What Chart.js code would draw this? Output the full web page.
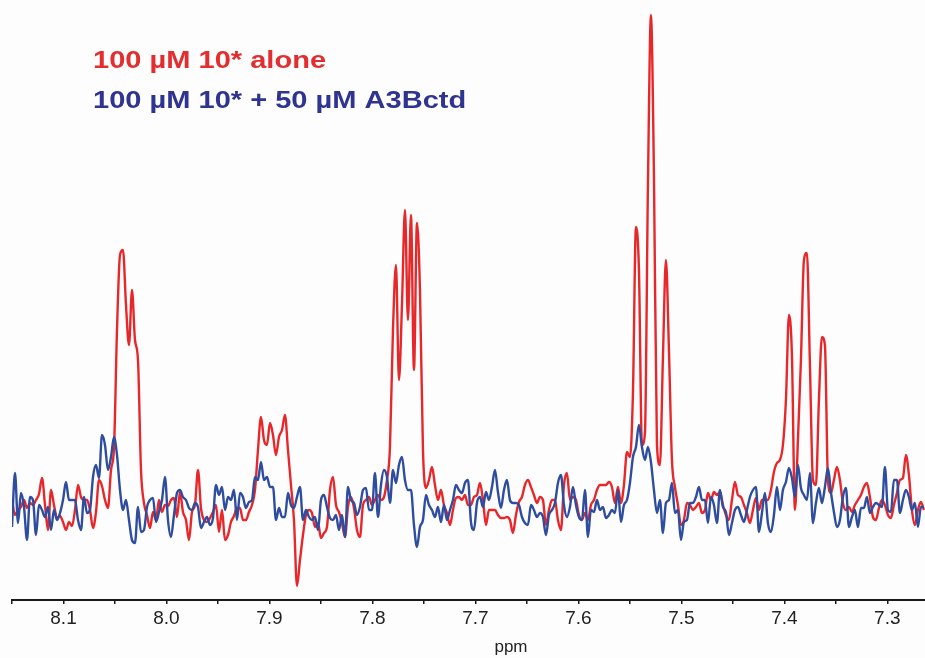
<!DOCTYPE html>
<html>
<head>
<meta charset="utf-8">
<title>1H NMR, aromatic region</title>
<script src="https://cdn.jsdelivr.net/npm/chart.js@4.4.0/dist/chart.umd.min.js"></script>
<style>
    html, body { margin: 0; padding: 0; background: #fdfdfd; }
    #spectrum { display: block; }
</style>
</head>
<body>
<canvas id="spectrum" width="925" height="658"></canvas>
<script>
// acquisition grid (ppm), shared by both spectra
const ppmStart = 8.15;
const ppmStep = 0.002913;
const ppmMin = 7.2634;

const majorTicks = [8.1, 8.0, 7.9, 7.8, 7.7, 7.6, 7.5, 7.4, 7.3];
const minorTicks = [8.15, 8.05, 7.95, 7.85, 7.75, 7.65, 7.55, 7.45, 7.35];
const axisTitle = 'ppm';

const seriesLabels = ['100 µM 10* alone', '100 µM 10* + 50 µM A3Bctd'];

// 10* alone
const redIntensity = [
    5, -10, -5, -2, 5, -3, 2, 0, 5, 11,
    27, 0, -25, 15, 0, -13, -11, -17, -25, -17,
    -21, -5, 20, 8, 5, 5, -5, -23, -7, 25,
    19, 5, -3, 35, 57, 175, 250, 255, 200, 160,
    215, 165, 145, 35, 2, -10, -23, -7, -15, 5,
    -7, 0, -1, 5, 7, -12, 13, -7, -15, -35,
    -7, 0, 35, -3, -15, -17, -13, -7, 0, -27,
    -5, -35, -30, -17, -11, -3, -3, -15, -15, -7,
    0, 15, 55, 88, 65, 60, 82, 70, 50, 68,
    75, 90, 55, 20, -15, -81, -55, -30, -10, -5,
    -8, -22, -18, -33, -28, -22, 15, 28, 0, -7,
    -18, -32, -2, 8, -3, -25, -32, 0, 5, 8,
    0, 5, 10, 5, 8, 25, 58, 175, 240, 125,
    200, 295, 185, 290, 135, 282, 215, 55, 17, 25,
    38, 20, 5, 15, 0, -8, -20, -5, 7, 8,
    5, 10, 0, 0, 8, 10, 22, 5, -20, -5,
    -5, -5, -10, -13, -13, -12, -15, -28, -10, 3,
    8, 20, 25, 18, 10, 2, 8, 5, -20, -5,
    5, 5, -15, -25, 20, 32, 5, 8, 5, -10,
    -15, -8, -15, 0, 5, 15, 20, 20, 20, 23,
    18, 2, 18, 2, 20, 53, 48, 112, 278, 235,
    60, 72, 320, 490, 330, 60, 40, 148, 245, 155,
    45, 18, 0, -20, -15, 2, 0, -5, -2, 2,
    -8, -5, 12, 5, 13, 10, 13, 0, -10, -15,
    5, 23, 10, 8, 0, -8, -18, -5, 7, -5,
    5, 5, 5, 15, 33, 42, 45, 60, 105, 190,
    150, -5, 65, 145, 245, 252, 140, 25, 20, 105,
    168, 160, 25, 12, 25, 38, 25, 2, -5, -2,
    -7, 0, 5, 10, 18, 22, 8, -12, -15, -3,
    5, 0, -10, -13, 0, 12, 25, 27, 50, 30,
    -5, -20, -5, 3, -5
];

// 10* + A3Bctd
const blueIntensity = [
    -22, 32, -18, 12, -2, -35, 8, 5, -30, 0,
    -5, -12, -2, -25, -5, -15, -8, 5, 23, 5,
    5, 5, -15, -25, 8, -8, -5, 28, 40, 27,
    70, 60, 35, 48, 68, 50, 15, -5, 5, -15,
    -35, -38, -2, -27, -25, -2, 5, 7, -17, -7,
    5, 28, -15, -32, -10, 12, 15, 8, 5, -3,
    -5, 2, -2, -23, -17, -12, -20, -13, 20, 10,
    18, -5, 8, 5, 15, -15, 12, 8, -3, 3,
    5, 28, 25, 43, 25, 28, 18, 18, -15, -3,
    -12, -12, 12, 0, -3, 8, 18, -15, -5, -12,
    -15, -12, -25, 5, 10, -2, -13, -15, -10, -25,
    -10, -32, 18, 5, 2, -10, -2, 15, 17, -5,
    -5, 32, -12, 20, 35, 28, 2, 35, 22, 40,
    48, 25, 15, 15, -20, -42, -22, -15, 10, 0,
    -5, -12, -2, -17, 0, -15, -5, 5, 20, 15,
    12, 22, 25, -17, -25, 2, 8, -2, 13, 5,
    18, 35, 13, -3, 15, 25, 5, 2, 2, 0,
    -12, -18, -20, 0, -5, -12, -8, -12, -30, -10,
    -5, 2, 22, 30, 0, -12, -2, 18, 0, -12,
    -15, 15, -32, -5, -7, 5, -5, -2, -13, -10,
    -5, -8, 15, -17, 0, 5, 22, 48, 58, 80,
    58, 45, 58, 43, 15, -8, 5, -28, 2, 5,
    22, -8, -5, -35, -17, -15, 2, 2, 8, 18,
    5, 5, -18, 8, 0, -18, 15, -2, -7, -30,
    -18, -5, -2, -10, -17, -5, 8, 15, 18, -27,
    -8, 12, -18, -27, -10, 18, -5, 15, 23, 37,
    27, 8, 40, 17, 10, 5, 32, -18, 2, 17,
    2, 18, 37, 13, -7, -22, -15, 8, 17, -22,
    -12, -5, -22, -3, -3, 8, -8, -2, 2, 0,
    -2, 38, -5, -7, 25, 25, -8, 5, 15, 8,
    -5, 2, -22, -2, -2
];

const ppm = redIntensity.map((_, i) => ppmStart - i * ppmStep);
const toPoints = values => values.map((v, i) => ({ x: ppm[i], y: v }));

const fontFamily = '"Liberation Sans", Arial, Helvetica, sans-serif';

/**
 * Series names in the top left corner and the axis title under the ticks.
 */
const spectrumLabels = {
    id: 'spectrumLabels',
    afterDraw(chart) {
        const ctx = chart.ctx;
        ctx.save();
        ctx.font = 'bold 24px ' + fontFamily;
        ctx.textBaseline = 'alphabetic';
        chart.data.datasets.forEach((ds, i) => {
            ctx.save();
            ctx.translate(93, 68 + i * 40);
            ctx.scale(1.21, 1);
            ctx.fillStyle = ds.labelColor;
            ctx.fillText(ds.label, 0, 0);
            ctx.restore();
        });

        ctx.font = '17px ' + fontFamily;
        ctx.fillStyle = '#222';
        ctx.textAlign = 'center';
        ctx.fillText(axisTitle, 511, 652);
        ctx.restore();
    }
};

new Chart(document.getElementById('spectrum'), {
    type: 'line',
    data: {
        datasets: [
            {
                label: seriesLabels[0],
                data: toPoints(redIntensity),
                borderColor: '#e8272b',
                labelColor: '#e42d2e',
                order: 2,
            },
            {
                label: seriesLabels[1],
                data: toPoints(blueIntensity),
                borderColor: '#2f4d9f',
                labelColor: '#2e3490',
                order: 1,
            },
        ],
    },
    options: {
        responsive: false,
        animation: false,
        devicePixelRatio: 1,
        layout: { padding: { left: 12, right: 0, top: 0, bottom: 0 } },
        elements: {
            point: { radius: 0 },
            line: {
                borderWidth: 2.4,
                cubicInterpolationMode: 'monotone',
                borderJoinStyle: 'round',
                fill: false,
            },
        },
        plugins: {
            legend: { display: false },
            tooltip: { enabled: false },
        },
        scales: {
            x: {
                type: 'linear',
                reverse: true,
                min: ppmMin,
                max: ppmStart,
                afterFit: scale => { scale.height = 58; },
                afterBuildTicks: scale => {
                    scale.ticks = majorTicks.concat(minorTicks).map(v => ({ value: v }));
                },
                border: { display: true, color: '#1a1a1a', width: 2 },
                grid: {
                    drawOnChartArea: false,
                    drawTicks: true,
                    tickLength: 4,
                    color: '#1a1a1a',
                    lineWidth: 1.5,
                },
                ticks: {
                    autoSkip: false,
                    maxRotation: 0,
                    padding: 3,
                    color: '#222',
                    font: { family: fontFamily, size: 19 },
                    callback: value => majorTicks.includes(value) ? value.toFixed(1) : '',
                },
                title: { display: false },
            },
            y: {
                display: false,
                min: -95,
                max: 505,
            },
        },
    },
    plugins: [spectrumLabels],
});
</script>
</body>
</html>
